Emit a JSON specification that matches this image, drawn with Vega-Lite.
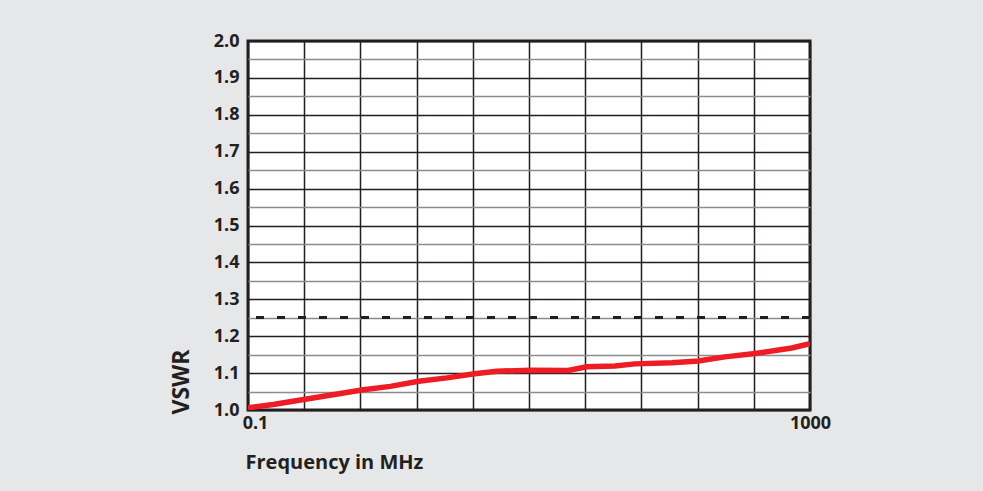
{
  "$schema": "https://vega.github.io/schema/vega-lite/v6.json",
  "width": 562,
  "height": 369,
  "autosize": "none",
  "padding": {"left": 248, "top": 41, "right": 173, "bottom": 81},
  "background": "#e6e7e8",
  "view": {"fill": "#ffffff", "stroke": "#231f20", "strokeWidth": 3},
  "config": {
    "font": "Open Sans",
    "axis": {"labelFont": "Open Sans", "titleFont": "Open Sans", "labelColor": "#231f20", "titleColor": "#231f20", "labelFontWeight": "bold", "titleFontWeight": "bold"}
  },
  "data": {"values": [
    {"freq": 0.1, "vswr": 1.006},
    {"freq": 0.151, "vswr": 1.015},
    {"freq": 0.262, "vswr": 1.030},
    {"freq": 0.662, "vswr": 1.055},
    {"freq": 1.03, "vswr": 1.064},
    {"freq": 1.64, "vswr": 1.078},
    {"freq": 2.6, "vswr": 1.087},
    {"freq": 4.11, "vswr": 1.098},
    {"freq": 5.89, "vswr": 1.105},
    {"freq": 10.2, "vswr": 1.108},
    {"freq": 19.0, "vswr": 1.107},
    {"freq": 25.7, "vswr": 1.117},
    {"freq": 40.9, "vswr": 1.119},
    {"freq": 56.8, "vswr": 1.125},
    {"freq": 104, "vswr": 1.128},
    {"freq": 160, "vswr": 1.133},
    {"freq": 248, "vswr": 1.144},
    {"freq": 406, "vswr": 1.153},
    {"freq": 741, "vswr": 1.168},
    {"freq": 1000, "vswr": 1.180}
  ]},
  "layer": [
    {
      "mark": {"type": "rule", "opacity": 0},
      "encoding": {
        "y": {"datum": 1.5, "type": "quantitative", "scale": {"domain": [1.0, 2.0], "nice": false, "zero": false},
          "axis": {"orient": "right", "values": [1.05, 1.15, 1.25, 1.35, 1.45, 1.55, 1.65, 1.75, 1.85, 1.95],
            "grid": true, "gridColor": "#8c8c8c", "gridWidth": 1.6, "gridOpacity": 1,
            "labels": false, "ticks": false, "domain": false, "title": null}}
      }
    },
    {
      "mark": {"type": "line", "color": "#ee1c25", "strokeWidth": 5.5, "clip": true},
      "encoding": {
        "x": {"field": "freq", "type": "quantitative", "scale": {"type": "log", "domain": [0.1, 1000], "nice": false},
          "axis": {"values": [0.1, 0.2512, 0.631, 1.585, 3.981, 10, 25.12, 63.1, 158.5, 398.1, 1000],
            "labelExpr": "datum.value < 0.11 ? '0.1' : (datum.value > 999 ? '1000' : '')",
            "labelOverlap": false, "labelFlush": false, "labelFontSize": 18, "labelPadding": 4,
            "labelOffset": {"condition": {"test": "datum.value < 0.11", "value": 7}, "value": 0},
            "grid": true, "gridColor": "#231f20", "gridWidth": 1.5, "gridOpacity": 1,
            "ticks": false, "domain": false,
            "title": "Frequency in MHz", "titleFontSize": 20, "titleAnchor": "start", "titlePadding": 20, "titleX": -3}},
        "y": {"field": "vswr", "type": "quantitative", "scale": {"domain": [1.0, 2.0], "nice": false, "zero": false},
          "axis": {"values": [1.0, 1.1, 1.2, 1.3, 1.4, 1.5, 1.6, 1.7, 1.8, 1.9, 2.0], "format": ".1f",
            "labelFontSize": 18, "labelPadding": 9,
            "grid": true, "gridColor": "#231f20", "gridWidth": 1.5, "gridOpacity": 1,
            "ticks": false, "domain": false,
            "title": "VSWR", "titleFontSize": 23, "titleAnchor": "start", "titlePadding": 20, "titleY": 373}}
      }
    },
    {
      "mark": {"type": "rule", "color": "#231f20", "strokeWidth": 2.5, "strokeDash": [8, 13]},
      "encoding": {"y": {"datum": 1.25, "type": "quantitative", "axis": null}}
    }
  ],
  "resolve": {"axis": {"y": "independent"}}
}
